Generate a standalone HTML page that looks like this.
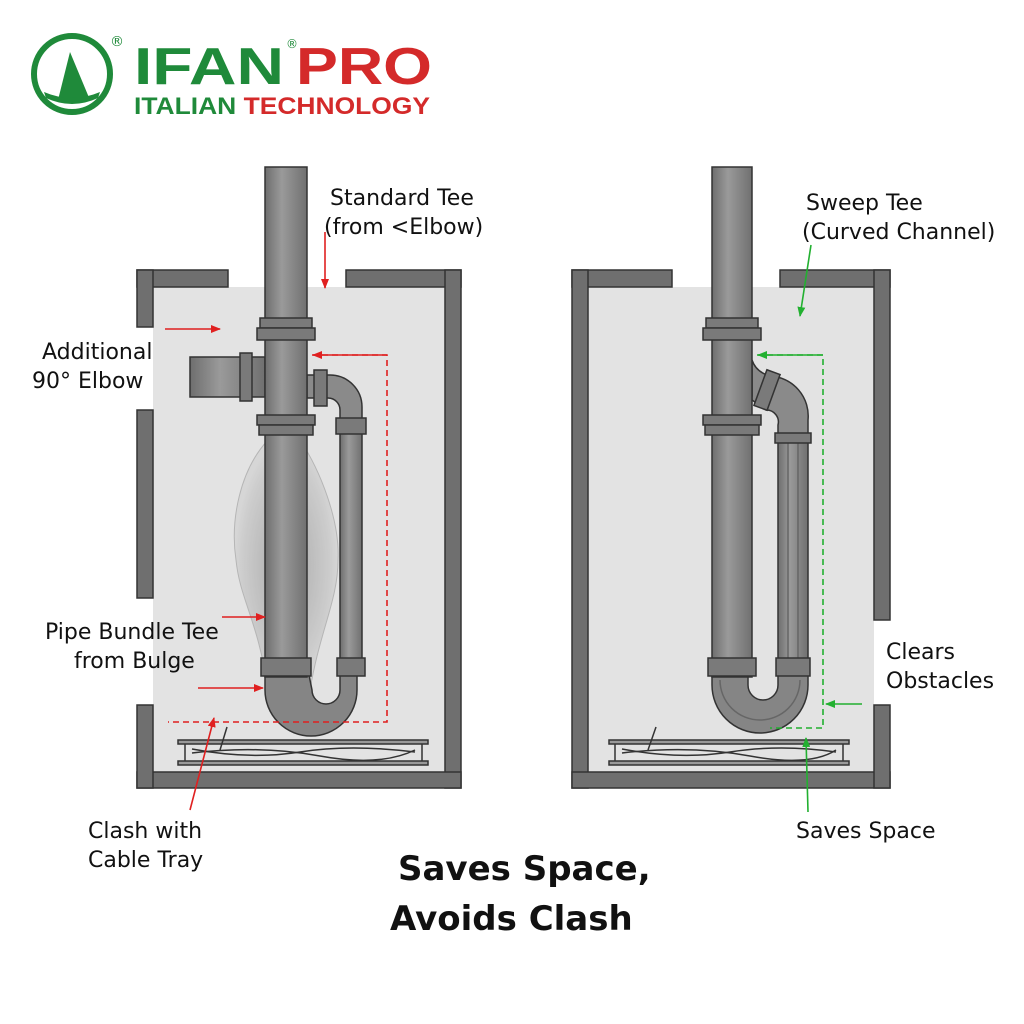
<!DOCTYPE html>
<html><head><meta charset="utf-8"><style>
body{margin:0;background:#fff;}
svg{display:block;font-family:"DejaVu Sans","Liberation Sans",sans-serif;}
</style></head><body>
<svg width="1024" height="1024" viewBox="0 0 1024 1024" xmlns="http://www.w3.org/2000/svg">
<defs>
<linearGradient id="pg" x1="0" x2="1" y1="0" y2="0"><stop offset="0" stop-color="#6e6e6e"/><stop offset="0.4" stop-color="#9a9a9a"/><stop offset="1" stop-color="#707070"/></linearGradient>
<marker id="ar" markerWidth="10" markerHeight="8" refX="9" refY="4" orient="auto" markerUnits="userSpaceOnUse"><path d="M0,0 L10,4 L0,8z" fill="#e02020"/></marker>
<marker id="ag" markerWidth="10" markerHeight="8" refX="9" refY="4" orient="auto" markerUnits="userSpaceOnUse"><path d="M0,0 L10,4 L0,8z" fill="#22b030"/></marker>
<radialGradient id="bulge" cx="0.5" cy="0.5" r="0.5"><stop offset="0" stop-color="#9a9a9a"/><stop offset="0.85" stop-color="#c8c8c8"/><stop offset="1" stop-color="#d4d4d4"/></radialGradient>
</defs>
<rect width="1024" height="1024" fill="#fff"/>
<!-- logo -->
<circle cx="72" cy="74" r="38" fill="none" stroke="#1f8a3a" stroke-width="6"/>
<path d="M70,52 L58,100 L90,100 Z" fill="#1f8a3a"/>
<path d="M44,92 Q72,104 100,92 L98,98 Q72,110 46,98Z" fill="#1f8a3a"/>
<text x="110" y="46" font-size="14" fill="#1f8a3a">®</text>
<text x="134" y="84" font-size="52" font-weight="bold" fill="#1f8a3a" font-family="Liberation Sans" textLength="150" lengthAdjust="spacingAndGlyphs">IFAN</text>
<text x="286" y="48" font-size="12" fill="#1f8a3a">®</text>
<text x="296" y="84" font-size="52" font-weight="bold" fill="#d42a2a" font-family="Liberation Sans" textLength="136" lengthAdjust="spacingAndGlyphs">PRO</text>
<text x="134" y="114" font-size="24" font-weight="bold" fill="#1f8a3a" font-family="Liberation Sans" textLength="296" lengthAdjust="spacingAndGlyphs">ITALIAN <tspan fill="#d42a2a">TECHNOLOGY</tspan></text>

<!-- LEFT BOX -->
<rect x="153" y="287" width="292" height="485" fill="#e3e3e3"/>
<g fill="#6f6f6f" stroke="#333" stroke-width="1.5">
<rect x="137" y="270" width="91" height="17"/><rect x="346" y="270" width="115" height="17"/>
<rect x="445" y="270" width="16" height="518"/><rect x="137" y="772" width="324" height="16"/>
<rect x="137" y="270" width="16" height="57"/><rect x="137" y="410" width="16" height="188"/><rect x="137" y="705" width="16" height="83"/>
</g>
<path d="M268,440 C240,470 230,520 236,560 C240,600 258,620 268,690 L310,690 C320,630 338,600 338,560 C340,520 320,470 300,440Z" fill="url(#bulge)" stroke="#aaa" stroke-width="1" opacity="0.8"/>
<g stroke="#333" stroke-width="1.5">
<path d="M265,665 L265,690 A46,46 0 0 0 357,690 L357,665 L340,665 L340,690 A14,14 0 0 1 312,690 L307,665 Z" fill="#858585"/>
<rect x="340" y="420" width="22" height="245" fill="url(#pg)"/>
<path d="M307,375 L330,375 A32,32 0 0 1 362,407 L362,420 L340,420 L340,410 A12,12 0 0 0 328,398 L307,398Z" fill="#8a8a8a"/>
<rect x="190" y="357" width="75" height="40" fill="url(#pg)"/>
<rect x="240" y="353" width="12" height="48" fill="#7a7a7a"/>
<rect x="265" y="167" width="42" height="510" fill="url(#pg)"/>
<rect x="314" y="370" width="13" height="36" fill="#7a7a7a"/>
<rect x="260" y="318" width="52" height="10" fill="#7a7a7a"/><rect x="257" y="328" width="58" height="12" fill="#7a7a7a"/>
<rect x="257" y="415" width="58" height="10" fill="#7a7a7a"/><rect x="259" y="425" width="54" height="10" fill="#7a7a7a"/>
<rect x="336" y="418" width="30" height="16" fill="#7a7a7a"/>
<rect x="261" y="658" width="50" height="18" fill="#7a7a7a"/><rect x="337" y="658" width="28" height="18" fill="#7a7a7a"/>
</g>
<g stroke="#333" stroke-width="1.5" fill="none">
<rect x="178" y="740" width="250" height="4" fill="#999"/><rect x="178" y="761" width="250" height="4" fill="#999"/>
<line x1="185" y1="744" x2="185" y2="761"/><line x1="422" y1="744" x2="422" y2="761"/>
<path d="M192,749 Q250,760 300,752 T415,752"/><path d="M192,753 Q260,745 320,756 T415,750"/>
<line x1="220" y1="750" x2="227" y2="727"/>
</g>
<path d="M312,355 L387,355 L387,722 L168,722" fill="none" stroke="#e02020" stroke-width="1.6" stroke-dasharray="6,4"/>
<g stroke="#e02020" stroke-width="1.6" fill="none">
<line x1="387" y1="355" x2="313" y2="355" marker-end="url(#ar)"/>
<line x1="325" y1="232" x2="325" y2="288" marker-end="url(#ar)"/>
<line x1="165" y1="329" x2="220" y2="329" marker-end="url(#ar)"/>
<line x1="222" y1="617" x2="265" y2="617" marker-end="url(#ar)"/>
<line x1="198" y1="688" x2="263" y2="688" marker-end="url(#ar)"/>
<line x1="190" y1="810" x2="214" y2="718" marker-end="url(#ar)"/>
</g>
<g font-size="22" fill="#111">
<text x="330" y="205">Standard Tee</text><text x="324" y="234">(from &lt;Elbow)</text>
<text x="42" y="359">Additional</text><text x="32" y="388">90° Elbow</text>
<text x="45" y="639">Pipe Bundle Tee</text><text x="74" y="668">from Bulge</text>
<text x="88" y="838">Clash with</text><text x="88" y="867">Cable Tray</text>
<text x="806" y="210">Sweep Tee</text><text x="802" y="239">(Curved Channel)</text>
<text x="886" y="659">Clears</text><text x="886" y="688">Obstacles</text>
<text x="796" y="838">Saves Space</text>
</g>

<!-- RIGHT BOX -->
<rect x="588" y="287" width="286" height="485" fill="#e3e3e3"/>
<g fill="#6f6f6f" stroke="#333" stroke-width="1.5">
<rect x="572" y="270" width="100" height="17"/><rect x="780" y="270" width="110" height="17"/>
<rect x="572" y="270" width="16" height="518"/><rect x="572" y="772" width="318" height="16"/>
<rect x="874" y="270" width="16" height="350"/><rect x="874" y="705" width="16" height="83"/>
</g>
<g stroke="#333" stroke-width="1.5">
<path d="M712,665 L712,685 A48,48 0 0 0 808,685 L808,665 L778,665 L778,685 A15,15 0 0 1 748,685 L748,665 Z" fill="#858585"/>
<path d="M720,680 A38,38 0 0 0 800,680" fill="none" stroke="#666"/>
<rect x="778" y="435" width="30" height="230" fill="url(#pg)"/>
<line x1="788" y1="435" x2="788" y2="665" stroke="#666"/><line x1="798" y1="435" x2="798" y2="665" stroke="#666"/>
<path d="M752,360 Q756,372 770,376 A40,40 0 0 1 808,420 L808,435 L778,435 L778,425 A12,12 0 0 0 766,410 L752,400 Z" fill="#8a8a8a"/>
<path d="M752,370 L735,378 L752,395Z" fill="#999"/>
<rect x="712" y="167" width="40" height="510" fill="url(#pg)"/>
<rect x="760" y="371" width="14" height="38" transform="rotate(20 767 390)" fill="#7a7a7a"/>
<rect x="706" y="318" width="52" height="10" fill="#7a7a7a"/><rect x="703" y="328" width="58" height="12" fill="#7a7a7a"/>
<rect x="703" y="415" width="58" height="10" fill="#7a7a7a"/><rect x="705" y="425" width="54" height="10" fill="#7a7a7a"/>
<rect x="775" y="433" width="36" height="10" fill="#7a7a7a"/>
<rect x="708" y="658" width="48" height="18" fill="#7a7a7a"/><rect x="776" y="658" width="34" height="18" fill="#7a7a7a"/>
</g>
<g stroke="#333" stroke-width="1.5" fill="none">
<rect x="609" y="740" width="240" height="4" fill="#999"/><rect x="609" y="761" width="240" height="4" fill="#999"/>
<line x1="615" y1="744" x2="615" y2="761"/><line x1="843" y1="744" x2="843" y2="761"/>
<path d="M622,749 Q680,760 730,752 T836,752"/><path d="M622,753 Q690,745 750,756 T836,750"/>
<line x1="648" y1="750" x2="656" y2="727"/>
</g>
<path d="M757,355 L823,355 L823,728 L770,728" fill="none" stroke="#22b030" stroke-width="1.6" stroke-dasharray="6,4"/>
<g stroke="#22b030" stroke-width="1.6" fill="none">
<line x1="823" y1="355" x2="758" y2="355" marker-end="url(#ag)"/>
<line x1="811" y1="245" x2="800" y2="316" marker-end="url(#ag)"/>
<line x1="862" y1="704" x2="826" y2="704" marker-end="url(#ag)"/>
<line x1="808" y1="812" x2="806" y2="738" marker-end="url(#ag)"/>
</g>
<text x="398" y="880" font-size="34" font-weight="bold" fill="#111">Saves Space,</text>
<text x="390" y="930" font-size="34" font-weight="bold" fill="#111">Avoids Clash</text>
</svg>
</body></html>
